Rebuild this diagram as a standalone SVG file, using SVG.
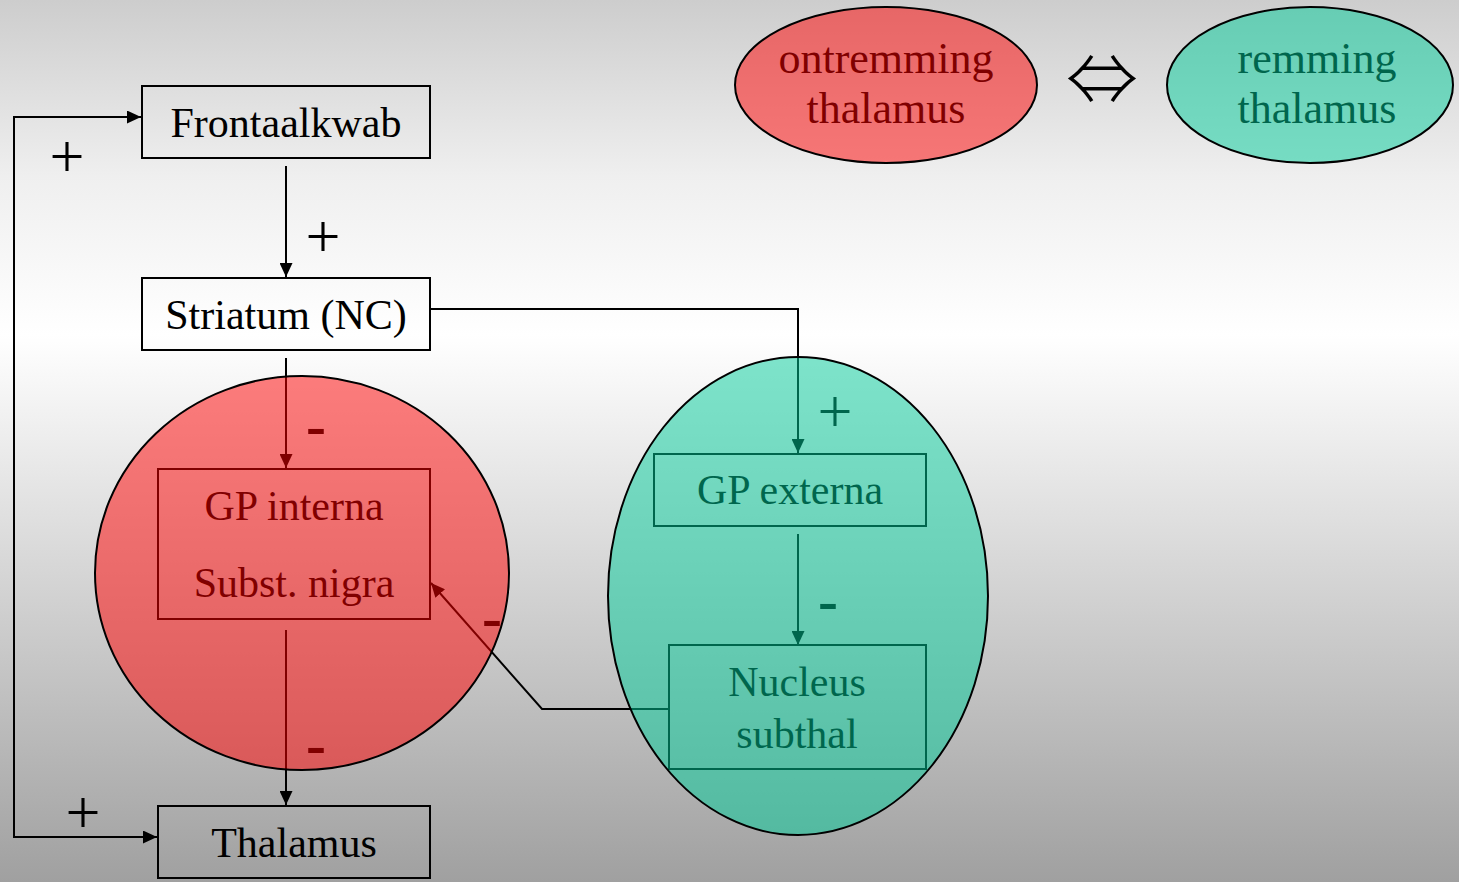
<svg xmlns="http://www.w3.org/2000/svg" width="1459" height="882" viewBox="0 0 1459 882">
<defs>
<linearGradient id="bg" x1="0" y1="0" x2="0" y2="1">
<stop offset="0" stop-color="#cdcdcd"/>
<stop offset="0.2" stop-color="#efefef"/>
<stop offset="0.38" stop-color="#ffffff"/>
<stop offset="1" stop-color="#a0a0a0"/>
</linearGradient>
<marker id="arrow" markerUnits="userSpaceOnUse" markerWidth="14" markerHeight="13" viewBox="0 0 14 13" refX="14" refY="6.5" orient="auto-start-reverse">
<path d="M0,0 L14,6.5 L0,13 z" fill="#000"/>
</marker>
<style>
.box{fill:none;stroke:#000;stroke-width:2}
.lbl{font-family:"Liberation Serif","Times New Roman",serif;font-size:42px;fill:#000;text-anchor:middle}
.leg{font-family:"Liberation Serif","Times New Roman",serif;font-size:44px;text-anchor:middle}
.con{fill:none;stroke:#000;stroke-width:2}
.plus{font-family:"Liberation Serif","Times New Roman",serif;font-size:62px;fill:#000;text-anchor:middle}
.minus{font-family:"Liberation Serif","Times New Roman",serif;font-size:60px;font-weight:bold;fill:#000;text-anchor:middle}
.zone{stroke:#000;stroke-width:2;fill-opacity:0.5}
</style>
</defs>
<rect x="0" y="0" width="1459" height="882" fill="url(#bg)"/>

<g id="connectors">
<path class="con" d="M141,117 H14 V837 H157" marker-start="url(#arrow)" marker-end="url(#arrow)"/>
<path class="con" d="M286,166 V277" marker-end="url(#arrow)"/>
<path class="con" d="M286,358 V468" marker-end="url(#arrow)"/>
<path class="con" d="M286,630 V805" marker-end="url(#arrow)"/>
<path class="con" d="M431,309 H798 V453" marker-end="url(#arrow)"/>
<path class="con" d="M798,534 V645" marker-end="url(#arrow)"/>
<path class="con" d="M669,709 H542 L431,583" marker-end="url(#arrow)"/>
<text class="plus" x="67" y="177">+</text>
<text class="plus" x="323" y="257">+</text>
<text class="plus" x="83" y="833">+</text>
<text class="plus" x="835" y="432">+</text>
<text class="minus" x="316" y="445">-</text>
<text class="minus" x="492" y="637">-</text>
<text class="minus" x="316" y="764">-</text>
<text class="minus" x="828" y="620">-</text>
</g>

<g id="frontaalkwab">
<rect class="box" x="142" y="86" width="288" height="72"/>
<text class="lbl" x="286" y="137">Frontaalkwab</text>
</g>
<g id="striatum">
<rect class="box" x="142" y="278" width="288" height="72"/>
<text class="lbl" x="286" y="329">Striatum (NC)</text>
</g>
<g id="gp-interna">
<rect class="box" x="158" y="469" width="272" height="150"/>
<text class="lbl" x="294" y="520">GP interna</text>
<text class="lbl" x="294" y="597">Subst. nigra</text>
</g>
<g id="thalamus">
<rect class="box" x="158" y="806" width="272" height="72"/>
<text class="lbl" x="294" y="857">Thalamus</text>
</g>
<g id="gp-externa">
<rect class="box" x="654" y="454" width="272" height="72"/>
<text class="lbl" x="790" y="504">GP externa</text>
</g>
<g id="nucleus-subthal">
<rect class="box" x="669" y="645" width="257" height="124"/>
<text class="lbl" x="797" y="696">Nucleus</text>
<text class="lbl" x="797" y="748">subthal</text>
</g>

<g id="zone-ontremming">
<ellipse class="zone" cx="302" cy="573" rx="207" ry="197" fill="#ff0000"/>
</g>
<g id="zone-remming">
<ellipse class="zone" cx="798" cy="596" rx="190" ry="239" fill="#00cc99"/>
</g>

<g id="legend-ontremming">
<ellipse class="zone" cx="886" cy="85" rx="151" ry="78" fill="#ff0000"/>
<text class="leg" x="886" y="73" fill="#800000">ontremming</text>
<text class="leg" x="886" y="123" fill="#800000">thalamus</text>
</g>
<g id="legend-equiv">
<text x="1102" y="105" font-family="'Noto Sans CJK JP','DejaVu Sans',sans-serif" font-weight="300" font-size="72" text-anchor="middle" fill="#000">⇔</text>
</g>
<g id="legend-remming">
<ellipse class="zone" cx="1310" cy="85" rx="143" ry="78" fill="#00cc99"/>
<text class="leg" x="1317" y="73" fill="#00664d">remming</text>
<text class="leg" x="1317" y="123" fill="#00664d">thalamus</text>
</g>
</svg>
